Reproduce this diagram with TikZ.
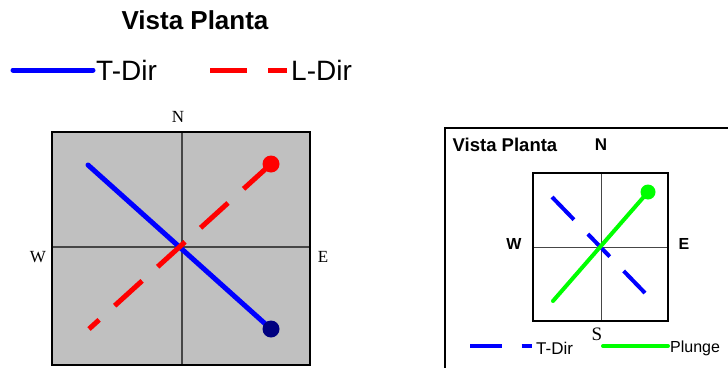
\documentclass[tikz,border=0pt]{standalone}
\usepackage{fontspec}
\setmainfont{Liberation Serif}
\setsansfont{Liberation Sans}
\usetikzlibrary{calc}
\definecolor{vpgrey}{RGB}{192,192,192}
\definecolor{vpblue}{RGB}{0,0,255}
\definecolor{vpred}{RGB}{255,0,0}
\definecolor{vpnavy}{RGB}{0,0,128}
\definecolor{vpgreen}{RGB}{0,255,0}
\definecolor{vpgrid}{RGB}{70,70,70}

\begin{document}
\begin{tikzpicture}[x=1pt,y=-1pt,
  lbl/.style={inner sep=0pt},
  grid/.style={vpgrid,line width=1.2pt},
  frame/.style={black,line width=1.8pt},
  tdir/.style={vpblue,line width=5pt},
  ldir/.style={vpred,line width=5pt,dash pattern=on 37pt off 21pt},
  tdash/.style={vpblue,line width=4pt,dash pattern=on 31.5pt off 20pt},
  plunge/.style={vpgreen,line width=4pt},
  dot/.style={circle,inner sep=0pt,minimum size=17pt}]
  \useasboundingbox (0,0) rectangle (728,367);
  % title and legend
  \node[lbl,font=\sffamily\bfseries\fontsize{26}{30}\selectfont] (title) at (195,20) {Vista Planta};
  \coordinate (ta) at (13,70); \coordinate (tb) at (93,70);
  \draw[tdir,line cap=round] (ta) -- (tb);
  \node[lbl,anchor=west,font=\sffamily\fontsize{28}{32}\selectfont] (tleg) at (96,70) {T-Dir};
  \coordinate (la) at (210,70); \coordinate (lb) at (287,70);
  \draw[ldir] (la) -- (lb);
  \node[lbl,anchor=west,font=\sffamily\fontsize{28}{32}\selectfont] (lleg) at (291,70) {L-Dir};
  % left plan
  \fill[vpgrey] (52,132) rectangle (310,365);
  \draw[grid] (182,132) -- (182,365);
  \draw[grid] (52,247) -- (310,247);
  \draw[frame] (52,132) rectangle (310,365);
  \node[lbl,font=\fontsize{17}{20}\selectfont] (n1) at (178,117) {N};
  \node[lbl,font=\fontsize{17}{20}\selectfont] (w1) at (38,257) {W};
  \node[lbl,font=\fontsize{17}{20}\selectfont] (e1) at (323,257) {E};
  \coordinate (tend) at (88,165);
  \coordinate (tpt) at (271,329);
  \coordinate (lpt) at (271,164);
  \coordinate (lend) at (89,329);
  \draw[tdir,line cap=round] (tend) -- (tpt);
  \draw[ldir] (lpt) -- (lend);
  \node[dot,fill=vpnavy] (tdot) at (tpt) {};
  \node[dot,fill=vpred] (ldot) at (lpt) {};
  % right plan
  \draw[line width=1.6pt] (445,368) -- (445,128) -- (729,128);
  \node[lbl,font=\sffamily\bfseries\fontsize{18.5}{22}\selectfont] (title2) at (505,145) {Vista Planta};
  \node[lbl,font=\sffamily\bfseries\fontsize{17}{20}\selectfont] (n2) at (601,145) {N};
  \node[lbl,font=\sffamily\bfseries\fontsize{16}{19}\selectfont] (w2) at (514,244) {W};
  \node[lbl,font=\sffamily\bfseries\fontsize{16}{19}\selectfont] (e2) at (684,244) {E};
  \node[lbl,font=\fontsize{19}{22}\selectfont] (s2) at (597,334) {S};
  \draw[grid,line width=1pt] (601,173) -- (601,321);
  \draw[grid,line width=1pt] (533,247) -- (668,247);
  \draw[frame,line width=1.5pt] (533,173) rectangle (668,321);
  \coordinate (ta2) at (552,197); \coordinate (tb2) at (645,293);
  \draw[tdash] (ta2) -- (tb2);
  \coordinate (ppt) at (648,192);
  \coordinate (pend) at (553,301);
  \draw[plunge,line cap=round] (pend) -- (ppt);
  \node[dot,fill=vpgreen,minimum size=15pt] (pdot) at (ppt) {};
  % right legend
  \coordinate (tl2a) at (470,346); \coordinate (tl2b) at (532,346);
  \draw[tdash] (tl2a) -- (tl2b);
  \node[lbl,anchor=west,font=\sffamily\fontsize{17}{20}\selectfont] (tleg2) at (536,348) {T-Dir};
  \coordinate (pl2a) at (603,346); \coordinate (pl2b) at (668,346);
  \draw[plunge,line cap=round] (pl2a) -- (pl2b);
  \node[lbl,anchor=west,font=\sffamily\fontsize{16}{19}\selectfont] (pleg2) at (670,348) {Plunge};
\end{tikzpicture}
\end{document}
